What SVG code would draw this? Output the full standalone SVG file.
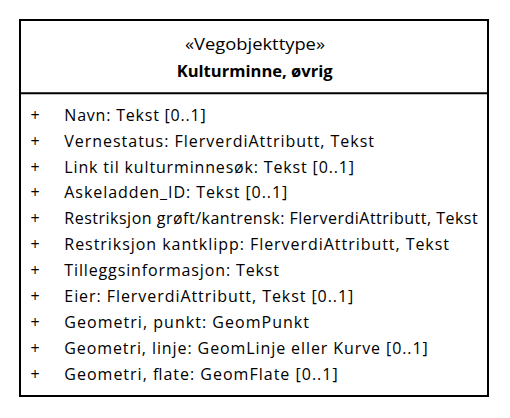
<svg xmlns="http://www.w3.org/2000/svg" width="510" height="418" viewBox="0 0 510 418">
  <style>
    .frame { fill: #ffffff; stroke: #000000; stroke-width: 2; }
    .sep { stroke: #000000; stroke-width: 2; }
    .t { font-family: "Open Sans", "Liberation Sans", Arial, sans-serif; font-size: 16px; fill: #000000; }
    .hdr { text-anchor: middle; }
    .b { font-weight: bold; }
    .vis { text-anchor: middle; }
  </style>
  <rect width="510" height="418" fill="#ffffff"/>
  <g id="class-kulturminne-ovrig">
    <rect class="frame" x="20" y="20" width="468" height="376"/>
    <line class="sep" x1="20" y1="93.3" x2="488" y2="93.3"/>
    <text class="t hdr" x="255" y="50" textLength="140" lengthAdjust="spacingAndGlyphs">«Vegobjekttype»</text>
    <text class="t hdr b" x="254.7" y="76.7" textLength="156" lengthAdjust="spacingAndGlyphs">Kulturminne, øvrig</text>
    <g id="attributes">
      <text class="t vis" x="35" y="120.7">+</text>
      <text class="t" x="64.3" y="120.7" textLength="141.4" lengthAdjust="spacing">Navn: Tekst [0..1]</text>
      <text class="t vis" x="35" y="146.6">+</text>
      <text class="t" x="64.3" y="146.6" textLength="309.7" lengthAdjust="spacing">Vernestatus: FlerverdiAttributt, Tekst</text>
      <text class="t vis" x="35" y="172.5">+</text>
      <text class="t" x="64.3" y="172.5" textLength="289.7" lengthAdjust="spacing">Link til kulturminnesøk: Tekst [0..1]</text>
      <text class="t vis" x="35" y="198.4">+</text>
      <text class="t" x="64.3" y="198.4" textLength="223" lengthAdjust="spacing">Askeladden_ID: Tekst [0..1]</text>
      <text class="t vis" x="35" y="224.3">+</text>
      <text class="t" x="64.3" y="224.3" textLength="413.4" lengthAdjust="spacing">Restriksjon grøft/kantrensk: FlerverdiAttributt, Tekst</text>
      <text class="t vis" x="35" y="250.2">+</text>
      <text class="t" x="64.3" y="250.2" textLength="384.7" lengthAdjust="spacing">Restriksjon kantklipp: FlerverdiAttributt, Tekst</text>
      <text class="t vis" x="35" y="276.1">+</text>
      <text class="t" x="64.3" y="276.1" textLength="214.7" lengthAdjust="spacing">Tilleggsinformasjon: Tekst</text>
      <text class="t vis" x="35" y="302">+</text>
      <text class="t" x="64.3" y="302" textLength="289" lengthAdjust="spacing">Eier: FlerverdiAttributt, Tekst [0..1]</text>
      <text class="t vis" x="35" y="327.9">+</text>
      <text class="t" x="64.3" y="327.9" textLength="244.7" lengthAdjust="spacing">Geometri, punkt: GeomPunkt</text>
      <text class="t vis" x="35" y="353.8">+</text>
      <text class="t" x="64.3" y="353.8" textLength="363.4" lengthAdjust="spacing">Geometri, linje: GeomLinje eller Kurve [0..1]</text>
      <text class="t vis" x="35" y="379.7">+</text>
      <text class="t" x="64.3" y="379.7" textLength="273.4" lengthAdjust="spacing">Geometri, flate: GeomFlate [0..1]</text>
    </g>
  </g>
</svg>
